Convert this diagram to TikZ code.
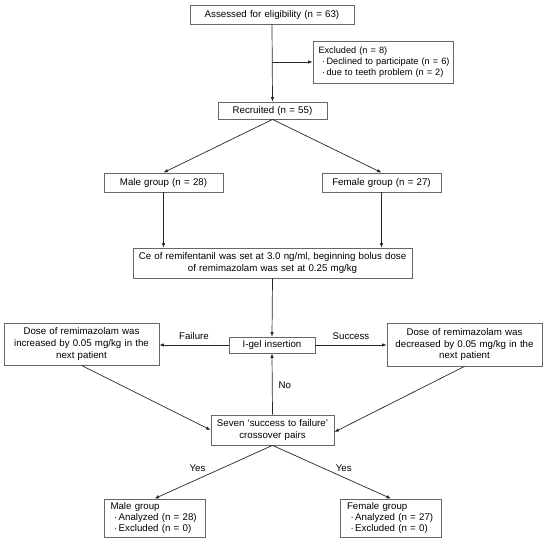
\documentclass[tikz,border=0pt]{standalone}
\usepackage{fontspec}
\setmainfont{Liberation Sans}
\usetikzlibrary{arrows.meta}
\newcommand{\bulitem}[1]{\mbox{\hspace*{3.5pt}·\hspace{1.5pt}#1}}
\begin{document}
\begin{tikzpicture}[x=1pt,y=-1pt,
  font=\fontsize{9.7}{11.2}\selectfont,
  box/.style={draw=black!60, line width=0.8pt, inner sep=0pt, align=center, fill=white},
  lbox/.style={box, align=left, inner xsep=6.5pt},
  conn/.style={draw=black!85, line width=0.7pt, -{Latex[length=4.5pt,width=3.5pt]}},
  lab/.style={inner sep=0pt}]
\useasboundingbox (0,0) rectangle (550,548);
\node[box, text width=164pt, minimum height=19pt] (assess) at (272,14.5) {Assessed for eligibility (n = 63)};
\node[lbox, inner xsep=5.5pt, text width=129pt, minimum height=42pt, font=\fontsize{9.2}{11}\selectfont] (excl) at (383,62) {\mbox{Excluded (n = 8)}\\
\bulitem{Declined to participate (n = 6)}\\
\bulitem{due to teeth problem (n = 2)}};
\node[box, text width=109pt, minimum height=17pt] (rec) at (272.5,110.5) {Recruited (n = 55)};
\node[box, text width=119pt, minimum height=19pt] (male) at (163.5,182.5) {Male group (n = 28)};
\node[box, text width=119pt, minimum height=19pt] (female) at (381.5,182.5) {Female group (n = 27)};
\node[box, text width=279pt, minimum height=30pt] (ce) at (272.5,263) {Ce of remifentanil was set at 3.0 ng/ml, beginning bolus dose\\of remimazolam was set at 0.25 mg/kg};
\node[box, text width=155pt, minimum height=42pt, font=\fontsize{9.7}{11.8}\selectfont] (left) at (81.5,344) {Dose of remimazolam was\\increased by 0.05 mg/kg in the\\next patient};
\node[box, text width=86pt, minimum height=16pt] (igel) at (272,345) {I-gel insertion};
\node[box, text width=155pt, minimum height=43pt, font=\fontsize{9.7}{11.8}\selectfont] (right) at (464.5,344.5) {Dose of remimazolam was\\decreased by 0.05 mg/kg in the\\next patient};
\node[box, text width=123pt, minimum height=30pt] (seven) at (272.5,430) {Seven ‘success to failure’\\crossover pairs};
\node[lbox, text width=88pt, minimum height=38pt, font=\fontsize{9.7}{10.6}\selectfont] (mres) at (154.5,518) {\mbox{Male group}\\
\bulitem{Analyzed (n = 28)}\\
\bulitem{Excluded (n = 0)}};
\node[lbox, text width=88pt, minimum height=38pt, font=\fontsize{9.7}{10.6}\selectfont] (fres) at (391,518) {\mbox{Female group}\\
\bulitem{Analyzed (n = 27)}\\
\bulitem{Excluded (n = 0)}};
\coordinate (branch) at (assess.south |- excl.west);
% connectors
\draw[conn] (assess.south) -- (rec.north);
\draw[conn] (branch) -- (excl.west);
\draw[conn] (rec.south) -- (male.north);
\draw[conn] (rec.south) -- (female.north);
\draw[conn] (male.south) -- (male.south |- ce.north);
\draw[conn] (female.south) -- (female.south |- ce.north);
\draw[conn] (ce.south) -- (igel.north);
\draw[conn] (igel.west) -- node[lab, above=5pt] {Failure} (left.east |- igel.west);
\draw[conn] (igel.east) -- node[lab, above=5pt] {Success} (right.west |- igel.east);
\draw[conn] (left.south) -- (seven.west);
\draw[conn] (right.south) -- ([yshift=-2pt]seven.east);
\draw[conn] (seven.north) -- node[lab, right=6pt, pos=0.48] {No} (igel.south);
\draw[conn] (seven.south) -- node[lab, left=16pt, pos=0.43] {Yes} (mres.north);
\draw[conn] (seven.south) -- node[lab, right=12pt, pos=0.43] {Yes} (fres.north);
\end{tikzpicture}
\end{document}
